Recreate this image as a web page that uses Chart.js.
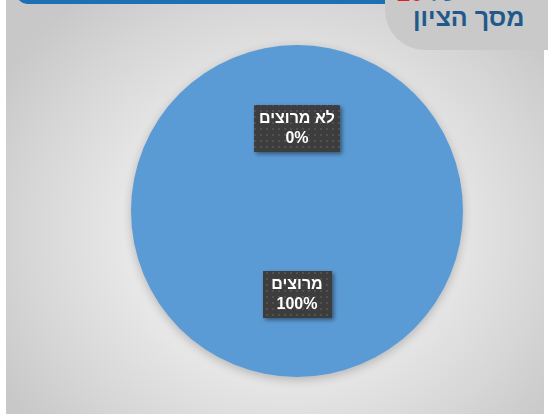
<!DOCTYPE html>
<html lang="he">
<head>
<meta charset="utf-8">
<script src="https://cdn.jsdelivr.net/npm/chart.js@4.4.1/dist/chart.umd.min.js"></script>
<style>
  html, body { margin: 0; padding: 0; background: #ffffff; }
  #stage { position: relative; width: 548px; height: 414px; overflow: hidden; }
  #panel {
    position: absolute; left: 6px; top: 0; width: 538px; height: 414px;
    background: radial-gradient(ellipse 62% 72% at 52% 56%, #f3f3f3 0%, #e9e9e9 45%, #d6d6d6 78%, #c8c8c8 100%);
  }
  #topbar {
    position: absolute; left: 17px; top: -20px; width: 390px; height: 24px;
    background: #1f6fb4; border-radius: 0 0 0 10px;
  }
  #badge {
    position: absolute; left: 385px; top: 0; width: 163px; height: 50px;
    background: #c9c9c9; border-bottom-left-radius: 40px;
    font-family: "Liberation Sans", Arial, sans-serif; font-weight: bold;
    direction: rtl;
  }
  #badge .prev { position: absolute; left: 12px; top: -21px; font-size: 24px; white-space: nowrap; direction: ltr; }
  #badge .title { position: absolute; left: 28px; top: 3px; font-size: 25px; color: #22598c; white-space: nowrap; }
  canvas { position: absolute; left: 0; top: 0; }
</style>
</head>
<body>
<div id="stage">
  <div id="panel"></div>
  <div id="topbar"></div>
  <div id="badge">
    <div class="prev"><span style="color:#e0201b">20</span> <span style="color:#1f6fb4">על</span></div>
    <div class="title">מסך הציון</div>
  </div>
  <canvas id="chart" width="548" height="414"></canvas>
</div>
<script>
// Satisfaction split shown in the pie
const categories = ['מרוצים', 'לא מרוצים'];
const percentValues = [100, 0];
const sliceColors = ['#5b9bd5', '#ed7d31'];

// Dark dotted fill for the data label boxes
function makeDotPattern(ctx) {
  const p = document.createElement('canvas');
  p.width = 6; p.height = 6;
  const pc = p.getContext('2d');
  pc.fillStyle = '#3d3d3d';
  pc.fillRect(0, 0, 6, 6);
  pc.fillStyle = '#515151';
  pc.fillRect(2, 2, 2, 2);
  return ctx.createPattern(p, 'repeat');
}

const pieDecor = {
  id: 'pieDecor',
  beforeDatasetsDraw(chart) {
    const ctx = chart.ctx;
    ctx.save();
    ctx.shadowColor = 'rgba(0,0,0,0.22)';
    ctx.shadowBlur = 10;
    ctx.shadowOffsetY = 3;
  },
  afterDatasetsDraw(chart) {
    const ctx = chart.ctx;
    ctx.restore();
    const meta = chart.getDatasetMeta(0);
    const pattern = makeDotPattern(ctx);
    ctx.save();
    ctx.font = 'bold 16px "Liberation Sans", Arial, sans-serif';
    ctx.textAlign = 'center';
    ctx.textBaseline = 'middle';
    ctx.direction = 'rtl';
    meta.data.forEach((arc, i) => {
      const pos = arc.tooltipPosition(true);
      const lines = [categories[i], percentValues[i] + '%'];
      const w = Math.max(...lines.map(t => ctx.measureText(t).width));
      const bw = Math.max(w + 10, 69);
      const bh = 47;
      const cx = pos.x;
      const cy = pos.y + 0.5;
      ctx.save();
      ctx.shadowColor = 'rgba(0,0,0,0.45)';
      ctx.shadowBlur = 4;
      ctx.shadowOffsetX = 2;
      ctx.shadowOffsetY = 2;
      ctx.fillStyle = pattern;
      ctx.fillRect(Math.round(cx - bw / 2), Math.round(cy - bh / 2), Math.round(bw), bh);
      ctx.restore();
      ctx.fillStyle = '#ffffff';
      ctx.fillText(lines[0], cx, cy - 9.5);
      ctx.fillText(lines[1], cx, cy + 10.5);
    });
    ctx.restore();
  }
};

new Chart(document.getElementById('chart'), {
  type: 'pie',
  data: {
    labels: categories,
    datasets: [{
      data: percentValues,
      backgroundColor: sliceColors,
      borderWidth: 0,
      hoverOffset: 0
    }]
  },
  options: {
    responsive: false,
    animation: false,
    layout: { padding: { left: 131, right: 85, top: 45, bottom: 37 } },
    plugins: {
      legend: { display: false },
      tooltip: { enabled: false }
    }
  },
  plugins: [pieDecor]
});
</script>
</body>
</html>
